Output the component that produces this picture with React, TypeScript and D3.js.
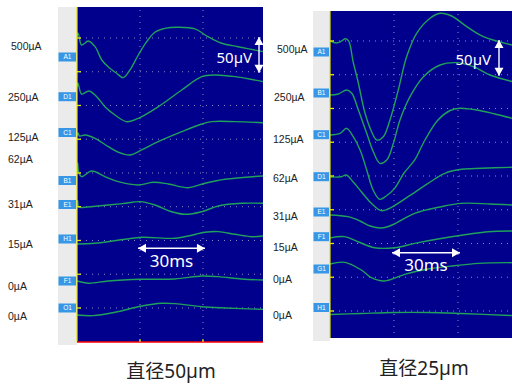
import * as d3 from "d3";

// left recording: electrode diameter 50 µm
const LEFT_CHANNELS = ["A1", "D1", "C1", "B1", "E1", "H1", "F1", "O1"];
const LEFT_CURRENTS = ["500µA", "250µA", "125µA", "62µA", "31µA", "15µA", "0µA", "0µA"];
const LEFT_OFFSETS = [1.5, -72.6, -145.2, -198.5, -250.4, -305.2, -360, -410.4]; // µV display offset

// traces: [ms, µV]
const L_A1: [number, number][] = [[0, 0], [0.4, 6], [0.9, 2], [2.2, -11.9], [5.4, -5.9], [8.6, -14.4], [11.8, -34.1], [14.8, -44], [18.9, -53.8], [22, -60.3], [25.2, -48.9], [29.2, -26.7], [33.2, -7], [37.1, 7], [41.9, 12.8], [48.2, 14.4], [56.2, 11.9], [62.4, 0.4], [68.9, -9.3], [76.7, -14.4], [88.6, -21.8]];
const L_D1: [number, number][] = [[0, 0], [0.4, 6], [0.9, 1], [2.2, -10.4], [5.7, -5.9], [9.4, -14.4], [13.3, -29.2], [18.1, -41.5], [23.7, -51.4], [29.2, -46.4], [38.7, -29.2], [49.9, -4.4], [59.4, 15.3], [65.7, 17.8], [75.2, 15.3], [88.6, 7.9]];
const L_C1: [number, number][] = [[0, 0], [0.4, 4.4], [1.2, 0], [3.8, 1.5], [8.6, -3.4], [14.9, -15.9], [19.7, -24.1], [25.2, -28.1], [30.8, -20.7], [38.7, -8.4], [49.9, 6.4], [59.4, 17.8], [64.2, 21.3], [75.2, 21.3], [88.6, 19.7]];
const L_B1: [number, number][] = [[0, 0], [0.3, 13.8], [0.8, 0], [2.2, -7], [7, 1.5], [13.3, -7], [19.7, -14.4], [29.2, -19.3], [36.3, -15.3], [43.5, -17.8], [53, -23.3], [61, -16.7], [70.5, -10.8], [88.6, -5.9]];
const L_E1: [number, number][] = [[0, 0], [0.3, 9.3], [0.8, 0], [3.8, -0.4], [14.9, 3], [22.9, 5.5], [30.1, 7.9], [37.1, 3], [45.1, -7], [51.4, -10.8], [59.4, -7], [67.3, 1.5], [78.4, 5.5], [88.6, 5.5]];
const L_H1: [number, number][] = [[0, 0], [8.4, 1], [22.9, 7], [30.8, 9.9], [46.7, 8.4], [53, 11.9], [61, 17.3], [67.3, 18.3], [75.2, 14.4], [83.2, 10.8], [88.6, 11.9]];
const L_F1: [number, number][] = [[0, 0], [5.4, -3.4], [14.9, 0], [30.8, 2.5], [46.7, 3], [59.4, 7.4], [67.3, 6.4], [78.4, 3], [88.6, 1.5]];
const L_O1: [number, number][] = [[0, 0], [7.6, -1], [18.1, 4], [30.8, 13.3], [40.3, 17.3], [46.7, 16.8], [59.4, 12.3], [70.5, 10.4], [88.6, 8.4]];

// right recording: electrode diameter 25 µm
const RIGHT_CHANNELS = ["A1", "B1", "C1", "D1", "E1", "F1", "G1", "H1"];
const RIGHT_CURRENTS = ["500µA", "250µA", "125µA", "62µA", "31µA", "15µA", "0µA", "0µA"];
const RIGHT_OFFSETS = [0, -80, -139.3, -201.5, -257.8, -291.9, -330.4, -405.2];

const R_A1: [number, number][] = [[0, 0], [3, -3], [5.3, -0.4], [7.2, 3.4], [8.8, -0.4], [10.8, -30.1], [13.1, -59.7], [16.4, -106.7], [19.5, -134.4], [21.9, -146.7], [25, -141.8], [28.1, -117], [32, -72.6], [35.9, -23.3], [40.6, 11.4], [46.9, 33.6], [51.6, 41], [57, 37], [64.1, 21.3], [71.9, 6.4], [85.3, -5.9]];
const R_B1: [number, number][] = [[0, 0], [3.9, 1.5], [7.8, 7.4], [10.2, 2.5], [13.3, -22.2], [17.2, -56.8], [20.3, -84], [23.4, -101.2], [26.6, -96.3], [29.7, -71.6], [32.8, -37], [37.5, -2.5], [43.8, 27.1], [51.6, 44.4], [59.4, 47.9], [67.2, 41.9], [75, 29.6], [85.3, 20]];
const R_C1: [number, number][] = [[0, 0], [4.7, 2.5], [7.8, 9.9], [10.9, -2.5], [14.1, -22.2], [17.2, -51.9], [20.2, -81.5], [23.3, -95.3], [26.3, -90.4], [30.3, -79], [34.7, -56.3], [39.7, -37], [44.5, -7.4], [50.6, 22.2], [56.3, 36.3], [60.9, 39.6], [68.8, 37], [77.3, 31.1], [85.3, 24.7]];
const R_D1: [number, number][] = [[0, 0], [5.3, 0.4], [7.6, 3], [10.8, -7], [14.7, -21.8], [19.4, -39], [24.1, -49.9], [28.8, -44.9], [36.6, -29.2], [46, -9.4], [53.8, 5.5], [61.7, 11.4], [71, 12.9], [85.3, 14.4]];
const R_E1: [number, number][] = [[0, 0], [8.4, -2.5], [14.1, -8.9], [18.8, -16.3], [24.1, -19.3], [29.1, -14.8], [39.7, 2.5], [51.6, 11.9], [61.6, 17.3], [75, 16.3], [85.3, 14.8]];
const R_F1: [number, number][] = [[0, 0], [6.9, 2], [13.1, -5.5], [20.9, -14.4], [30.3, -14.4], [39.7, -7.9], [50.6, -1.5], [64.7, 5.5], [74.1, 9.4], [85.3, 10.4]];
const R_G1: [number, number][] = [[0, 0], [6.9, 2.5], [14.7, -8.9], [19.4, -20.3], [25.6, -25.2], [35, -15.3], [45.9, -7.4], [58.4, -2.5], [69.4, 1], [85.3, 2]];
const R_H1: [number, number][] = [[0, 0], [14.7, 1.5], [30.3, 3], [46, 3], [61.6, 1.5], [85.3, -1.5]];

const GRID_UV = d3.range(0, -401, -50);
const GRID_MS = [30, 60];

const BG = "#00008c";
const TRACE = "#20a05a";
const SANS = "'Liberation Sans', Arial, sans-serif";
const NOTO = "'Noto Sans', 'Noto Sans CJK SC', sans-serif";

interface PanelProps {
  id: string;
  title: string;
  channels: string[];
  currents: string[];
  offsets: number[];
  traces: [number, number][][];
  frame: { left: number; right: number; top: number; bottom: number; strip: number };
  domain: { ms: number; top: number; bottom: number };
  labelX: number[];
  labelY: number[];
  boxY: number[];
  scaleBar: { x: number; textX: number; textY: number; msY: number; msTextY: number };
  titleXY: [number, number];
  redBase: boolean;
}

function Arrow({ x1, y1, x2, y2 }: { x1: number; y1: number; x2: number; y2: number }) {
  const ang = Math.atan2(y2 - y1, x2 - x1);
  const head = (px: number, py: number, a: number) => {
    const l = 8, w = 4.5;
    const bx = px - l * Math.cos(a), by = py - l * Math.sin(a);
    return `${px},${py} ${bx + w * Math.sin(a)},${by - w * Math.cos(a)} ${bx - w * Math.sin(a)},${by + w * Math.cos(a)}`;
  };
  return (
    <g fill="#fff" stroke="#fff">
      <line x1={x1} y1={y1} x2={x2} y2={y2} strokeWidth={1.4} />
      <polygon points={head(x2, y2, ang)} stroke="none" />
      <polygon points={head(x1, y1, ang + Math.PI)} stroke="none" />
    </g>
  );
}

function Panel(p: PanelProps) {
  const { frame, domain } = p;
  const x = d3.scaleLinear().domain([0, domain.ms]).range([frame.left, frame.right]);
  const y = d3.scaleLinear().domain([domain.top, domain.bottom]).range([frame.top, frame.bottom]);
  const line = d3
    .line<[number, number]>()
    .x((d) => x(d[0]))
    .y((d) => y(d[1]))
    .curve(d3.curveCatmullRom.alpha(0.5));

  return (
    <g>
      {/* channel label strip */}
      <rect x={frame.strip} y={frame.top} width={frame.left - frame.strip} height={frame.bottom - frame.top + 3} fill="#ebebeb" />
      <rect x={frame.left} y={frame.top} width={frame.right - frame.left} height={frame.bottom - frame.top} fill={BG} />
      <clipPath id={`clip-${p.id}`}>
        <rect x={frame.left} y={frame.top} width={frame.right - frame.left} height={frame.bottom - frame.top} />
      </clipPath>
      <g stroke="#8a8ac8" strokeWidth={1} strokeDasharray="1,5">
        {GRID_UV.map((v) => (
          <line key={v} x1={frame.left + 3} x2={frame.right} y1={y(v)} y2={y(v)} />
        ))}
        {GRID_MS.map((t) => (
          <line key={t} x1={x(t)} x2={x(t)} y1={frame.top + 3} y2={frame.bottom} />
        ))}
      </g>
      <g clipPath={`url(#clip-${p.id})`} fill="none" stroke={TRACE} strokeWidth={1.4}>
        {p.traces.map((tr, i) => (
          <path key={i} d={line(tr.map(([t, v]) => [t, v + p.offsets[i]] as [number, number])) ?? ""} />
        ))}
      </g>
      <line x1={frame.left} x2={frame.left} y1={frame.top} y2={frame.bottom} stroke="#e6e600" strokeWidth={1.2} />
      {GRID_UV.map((v) => (
        <line key={v} x1={frame.left} x2={frame.left + 4} y1={y(v)} y2={y(v)} stroke="#e6e600" strokeWidth={1.3} />
      ))}
      {p.redBase && (
        <g>
          <line x1={frame.left} x2={frame.right} y1={frame.bottom} y2={frame.bottom} stroke="#f00" strokeWidth={1.5} />
          {GRID_MS.map((t) => (
            <line key={t} x1={x(t)} x2={x(t)} y1={frame.bottom - 3} y2={frame.bottom} stroke="#e6e600" strokeWidth={1.2} />
          ))}
        </g>
      )}
      {/* channel boxes */}
      {p.channels.map((c, i) => (
        <g key={c}>
          <rect x={frame.strip + 0.5} y={p.boxY[i] - 4.5} width={frame.left - frame.strip - 1.5} height={9} fill="#3797e6" />
          <text x={(frame.strip + frame.left) / 2} y={p.boxY[i]} dy="0.35em" textAnchor="middle" fontSize={6.5} fill="#fff" fontFamily={SANS}>
            {c}
          </text>
        </g>
      ))}
      {/* stimulus currents */}
      {p.currents.map((c, i) => (
        <text key={i} x={p.labelX[i]} y={p.labelY[i]} dy="0.35em" fontSize={10.5} fill="#222" fontFamily={SANS}>
          {c}
        </text>
      ))}
      {/* scale bars */}
      <Arrow x1={p.scaleBar.x} y1={y(0) - 1} x2={p.scaleBar.x} y2={y(-50) + 1} />
      <text x={p.scaleBar.textX} y={p.scaleBar.textY} dy="0.35em" textAnchor="end" fontSize={15} fill="#fff" fontFamily={NOTO}>
        50µV
      </text>
      <Arrow x1={x(30) - 2} y1={p.scaleBar.msY} x2={x(60) + 2} y2={p.scaleBar.msY} />
      <text x={x(45)} y={p.scaleBar.msTextY} dy="0.35em" textAnchor="middle" fontSize={17} fill="#fff" fontFamily={NOTO}>
        30ms
      </text>
      <text x={p.titleXY[0]} y={p.titleXY[1]} dy="0.35em" textAnchor="middle" fontSize={19} fill="#222" fontFamily={NOTO}>
        {p.title}
      </text>
    </g>
  );
}

export default function App() {
  return (
    <svg width={512} height={386} style={{ position: "absolute", left: 0, top: 0, background: "#fff" }}>
      <Panel
        id="left"
        title="直径50µm"
        channels={LEFT_CHANNELS}
        currents={LEFT_CURRENTS}
        offsets={LEFT_OFFSETS}
        traces={[L_A1, L_D1, L_C1, L_B1, L_E1, L_H1, L_F1, L_O1]}
        frame={{ left: 77, right: 263, top: 7, bottom: 342, strip: 58 }}
        domain={{ ms: 88.6, top: 45.9, bottom: -450.4 }}
        labelX={[11, 8, 8, 8, 8, 8, 8, 8]}
        labelY={[46, 97.5, 137, 159, 204, 244, 286, 316]}
        boxY={[57, 96.7, 132.5, 180.5, 204.5, 239, 281, 308]}
        scaleBar={{ x: 259, textX: 252, textY: 58, msY: 248.3, msTextY: 261 }}
        titleXY={[171, 371]}
        redBase={true}
      />
      <Panel
        id="right"
        title="直径25µm"
        channels={RIGHT_CHANNELS}
        currents={RIGHT_CURRENTS}
        offsets={RIGHT_OFFSETS}
        traces={[R_A1, R_B1, R_C1, R_D1, R_E1, R_F1, R_G1, R_H1]}
        frame={{ left: 330, right: 512, top: 11, bottom: 338, strip: 313 }}
        domain={{ ms: 85.3, top: 44.4, bottom: -440 }}
        labelX={[277, 274, 273, 273, 273, 273, 273, 273]}
        labelY={[49, 97, 139, 178, 216, 247, 279, 315]}
        boxY={[52, 93, 134.7, 176.7, 212, 236.7, 269, 307.5]}
        scaleBar={{ x: 499, textX: 491, textY: 60, msY: 252.7, msTextY: 265.5 }}
        titleXY={[424, 368]}
        redBase={false}
      />
    </svg>
  );
}
